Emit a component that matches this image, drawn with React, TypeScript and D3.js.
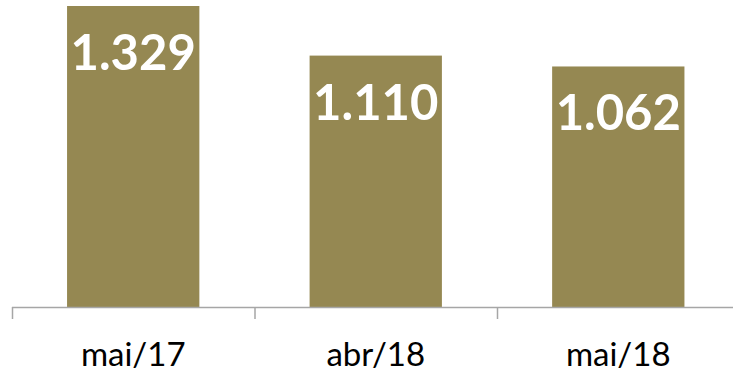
import React from "react";
import * as d3 from "d3";

const categories = ["mai/17", "abr/18", "mai/18"];
const values = [1329, 1110, 1062];
const labels = ["1.329", "1.110", "1.062"];

export default function App() {
  const W = 733, H = 376;
  const x0 = 12, bandW = 242.5;
  const baseY = 307, topY = 6;
  const x = d3.scaleBand<string>().domain(categories).range([x0, x0 + bandW * 3]).paddingInner(0.4545).paddingOuter(0.227);
  const xTicks = d3.scaleBand<string>().domain(categories).range([x0, x0 + bandW * 3]);
  const y = d3.scaleLinear().domain([0, 1329]).range([baseY, topY]);
  const font = "Lato, 'Open Sans', sans-serif";
  return (
    <svg width={W} height={H} style={{ position: "absolute", left: 0, top: 0, background: "#fff" }}>
      {values.map((v, i) => (
        <rect key={i} x={x(categories[i])} y={y(v)} width={x.bandwidth()} height={baseY - y(v)} fill="#958852" />
      ))}
      <line x1={x0} x2={W} y1={baseY + 0.5} y2={baseY + 0.5} stroke="#a6a6a6" strokeWidth={1.5} />
      {categories.map((c, i) => (
        <line key={c} x1={(xTicks(c) as number) + 0.5} x2={(xTicks(c) as number) + 0.5} y1={baseY} y2={319} stroke="#a6a6a6" strokeWidth={1.5} />
      ))}
      {values.map((v, i) => (
        <text key={i} x={(x(categories[i]) as number) + x.bandwidth() / 2} y={y(v) + 64} textAnchor="middle" fill="#fff" fontFamily={font} fontWeight={700} fontSize={49}>
          {labels[i]}
        </text>
      ))}
      {categories.map((c) => (
        <text key={c} x={(xTicks(c) as number) + xTicks.bandwidth() / 2} y={366} textAnchor="middle" fill="#000" fontFamily={font} fontSize={33}>
          {c}
        </text>
      ))}
    </svg>
  );
}
